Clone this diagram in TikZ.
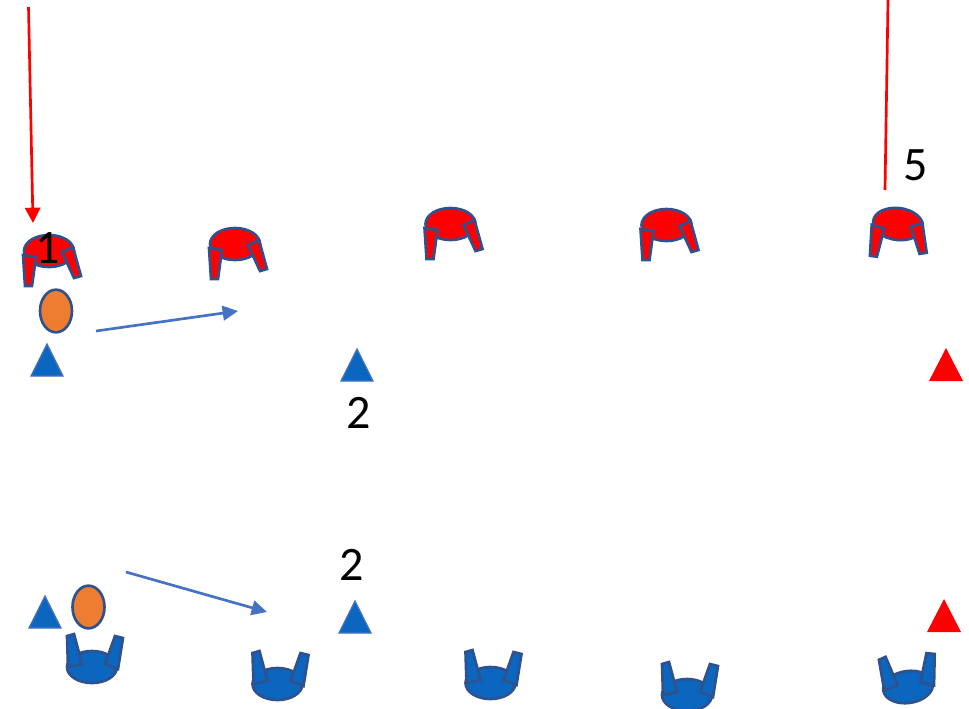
\documentclass[tikz,border=0pt]{standalone}
\usepackage{fontspec}
\setmainfont{Carlito}
\usetikzlibrary{arrows.meta,shapes.geometric}
\definecolor{seatblue}{HTML}{0A66BE}
\definecolor{edgeblue}{HTML}{2F528F}
\definecolor{arrowblue}{HTML}{4472C4}
\definecolor{headorange}{HTML}{ED7D31}
\tikzset{
	number/.style={inner sep=0pt, font=\fontsize{36}{40}\selectfont},
	head/.style={ellipse, draw=edgeblue, line width=2pt, fill=headorange, minimum width=24pt, minimum height=32pt, inner sep=0pt},
	moveline/.style={draw=arrowblue, line width=2pt, -{Triangle[length=11.5pt,width=11pt]}},
	redline/.style={draw=red, line width=2pt},
	redseat/.pic={
		\filldraw [fill=red, draw=edgeblue, line width=2pt] (0,0) circle [x radius=25, y radius=16];
		\filldraw [fill=red, draw=edgeblue, line width=2pt] (-26,4) -- (-13,6) -- (-17,35) -- (-24,35) -- cycle;
		\filldraw [fill=red, draw=edgeblue, line width=2pt] (13,1) -- (24,-4) -- (32,25) -- (25,27) -- cycle;
	},
	blueseat/.pic={
		\filldraw [fill=seatblue, draw=edgeblue, line width=2pt] (0,0) circle [x radius=25, y radius=16];
		\filldraw [fill=seatblue, draw=edgeblue, line width=2pt] (-25,-31) -- (-18,-33) -- (-10,-3) -- (-24,0) -- cycle;
		\filldraw [fill=seatblue, draw=edgeblue, line width=2pt] (23,-31) -- (31,-29) -- (26,2) -- (13,-3) -- cycle;
	},
	bluemark/.pic={
		\filldraw [fill=seatblue, draw=arrowblue, line width=1pt] (0,-32) -- (16,0) -- (-16,0) -- cycle;
	},
	redmark/.pic={
		\fill [red] (0,-33) -- (17,0) -- (-17,0) -- cycle;
	},
}
\begin{document}
\begin{tikzpicture}[x=0.75pt, y=-0.75pt]
	\useasboundingbox (0,0) rectangle (969,708);
	\begin{scope}
		\clip (0,0) rectangle (969,708);

		% top row
		\pic at (49,251) {redseat};
		\pic at (235,244) {redseat};
		\pic at (450.5,224) {redseat};
		\pic at (666.5,225) {redseat};
		\pic [rotate=-7] at (898,224) {redseat};

		% bottom row
		\pic at (92,667) {blueseat};
		\pic at (277.5,684) {blueseat};
		\pic at (490.5,683) {blueseat};
		\pic at (687,695) {blueseat};
		\pic [rotate=8] at (908,687) {blueseat};

		\pic at (47,376) {bluemark};
		\pic at (357,381) {bluemark};
		\pic at (45,628) {bluemark};
		\pic at (355,633) {bluemark};
		\pic at (946,381) {redmark};
		\pic at (944,632) {redmark};

		\node [head] (headtop) at (56,311) {};
		\node [head] (headbottom) at (88.5,607) {};

		\coordinate (starta) at (28.5,7);
		\coordinate (enda) at (33,223);
		\coordinate (startb) at (888,0);
		\coordinate (endb) at (885,190);
		\coordinate (startc) at (96,331);
		\coordinate (endc) at (238,311);
		\coordinate (startd) at (126,572);
		\coordinate (endd) at (267,612);

		\draw [redline, -{Triangle[length=11.5pt,width=11.5pt]}] (starta) -- (enda);
		\draw [redline] (startb) -- (endb);
		\draw [moveline] (startc) -- (endc);
		\draw [moveline] (startd) -- (endd);

		\node [number] (numone) at (48,248) {1};
		\node [number] (numfive) at (916,165) {5};
		\node [number] (numtwotop) at (359,413) {2};
		\node [number] (numtwobottom) at (352,565) {2};
	\end{scope}
\end{tikzpicture}
\end{document}
